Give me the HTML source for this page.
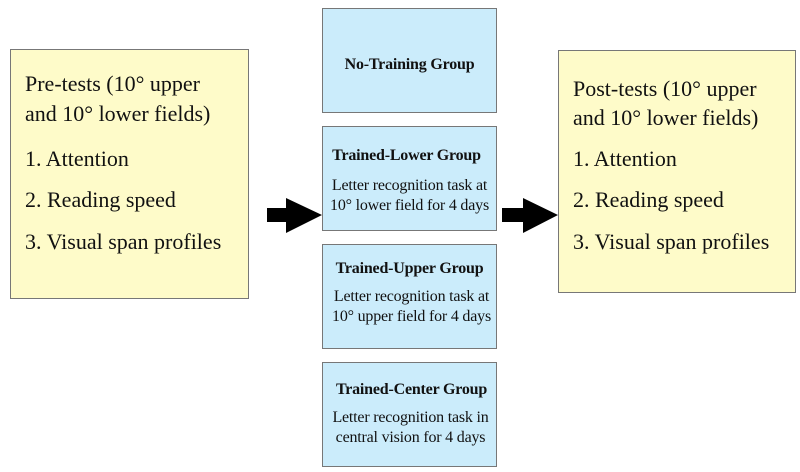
<!DOCTYPE html>
<html><head><style>
body{margin:0;width:800px;height:472px;background:#fff;position:relative;overflow:hidden;font-family:"Liberation Serif",serif;color:#111}
.b{position:absolute;box-sizing:border-box;border:1px solid #777}
.y{background:#fefbc9}
.c{background:#cbecfb;text-align:center}
.t{position:absolute;left:14px;font-size:22px;white-space:nowrap;line-height:26px}
.h{font-weight:bold;font-size:16px;position:absolute;left:0;right:0;white-space:nowrap;letter-spacing:-0.2px}
.s{font-size:16px;position:absolute;left:0;right:0;line-height:20px;white-space:nowrap;letter-spacing:-0.2px}
</style></head><body>
<div class="b y" style="left:10px;top:49px;width:239px;height:250px">
<div class="t" style="top:21px">Pre-tests (10° upper</div>
<div class="t" style="top:51px">and 10° lower fields)</div>
<div class="t" style="top:96px">1. Attention</div>
<div class="t" style="top:137px">2. Reading speed</div>
<div class="t" style="top:179px">3. Visual span profiles</div>
</div>
<div class="b y" style="left:558px;top:50px;width:238px;height:243px">
<div class="t" style="top:25px">Post-tests (10° upper</div>
<div class="t" style="top:54px">and 10° lower fields)</div>
<div class="t" style="top:95px">1. Attention</div>
<div class="t" style="top:136px">2. Reading speed</div>
<div class="t" style="top:178px">3. Visual span profiles</div>
</div>
<div class="b c" style="left:322px;top:8px;width:175px;height:105px"><div class="h" style="top:47px">No-Training Group</div></div>
<div class="b c" style="left:322px;top:126px;width:175px;height:105px"><div class="h" style="top:20px;left:-6px">Trained-Lower Group</div><div class="s" style="top:49px">Letter recognition task at<br>10° lower field for 4 days</div></div>
<div class="b c" style="left:322px;top:244px;width:175px;height:105px"><div class="h" style="top:15px">Trained-Upper Group</div><div class="s" style="top:42px;left:4px">Letter recognition task at<br>10° upper field for 4 days</div></div>
<div class="b c" style="left:322px;top:362px;width:175px;height:105px"><div class="h" style="top:18px;left:4px">Trained-Center Group</div><div class="s" style="top:45px;left:2px">Letter recognition task in<br>central vision for 4 days</div></div>
<svg width="800" height="472" style="position:absolute;left:0;top:0">
<polygon points="267,208 286,208 286,198 322,215 286,233 286,222 267,222" fill="#000"/>
<polygon points="502,208 523,208 523,198 558,215 523,233 523,222 502,222" fill="#000"/>
</svg>
</body></html>
